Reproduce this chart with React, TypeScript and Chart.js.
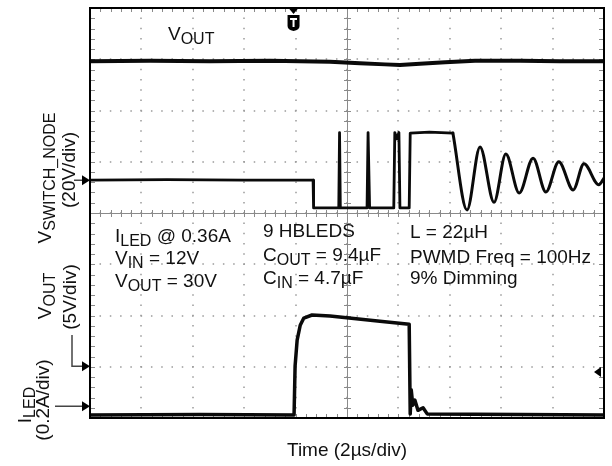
import React, { useEffect, useRef } from "react";
import { Chart, registerables } from "chart.js";

Chart.register(...registerables);

// ---- Data (x in time divisions 0..10, y in screen divisions 0..8) ----
const voutTopX = [0, 1.17, 2.33, 3.5, 4.67, 5.25, 5.74, 6.03, 6.42, 6.91, 7.49, 8.37, 9.14, 10];
const voutTopY = [6.96, 6.97, 6.96, 6.97, 6.95, 6.92, 6.9, 6.89, 6.91, 6.94, 6.97, 6.97, 6.96, 6.96];

const switchX = [0, 1.5, 3.0, 4.34, 4.35, 4.84, 4.855, 4.87, 5.39, 5.41, 5.44, 5.91, 5.93, 5.97, 6.01, 6.03, 6.21, 6.23, 6.6, 7.06];
const switchY = [4.64, 4.65, 4.64, 4.64, 4.1, 4.1, 5.57, 4.1, 4.1, 5.57, 4.1, 4.1, 5.57, 5.45, 5.57, 4.1, 4.1, 5.56, 5.58, 5.56];

const ringX = [7.06, 7.335, 7.588, 7.86, 8.09, 8.35, 8.62, 8.87, 9.12, 9.4, 9.61, 9.9, 10];
const ringY = [5.56, 4.06, 5.29, 4.21, 5.15, 4.39, 5.07, 4.41, 5.0, 4.45, 4.96, 4.55, 4.68];

const iledX = [0, 2.14, 3.97, 3.99, 4.03, 4.09, 4.16, 4.32, 4.67, 5.04, 5.64, 6.21, 6.23, 6.25, 6.28, 6.32, 6.38, 6.48, 6.56, 8.37, 10];
const iledY = [0.06, 0.07, 0.06, 1.01, 1.52, 1.81, 1.95, 2.01, 1.99, 1.95, 1.89, 1.83, 0.08, 0.55, 0.25, 0.35, 0.15, 0.2, 0.08, 0.07, 0.06];

// reference markers (divisions)
const switchRef = 4.64;
const voutRef = 1.01;
const iledRef = 0.23;
const rightRef = 0.9;
const triggerX = 3.96;

type Part = [string, boolean];

const topLabel: Part[] = [["V", false], ["OUT", true]];
const leftCol: Part[][] = [
  [["I", false], ["LED", true], [" @ 0.36A", false]],
  [["V", false], ["IN", true], [" = 12V", false]],
  [["V", false], ["OUT", true], [" = 30V", false]],
];
const midCol: Part[][] = [
  [["9 HBLEDS", false]],
  [["C", false], ["OUT", true], [" = 9.4µF", false]],
  [["C", false], ["IN", true], [" = 4.7µF", false]],
];
const rightCol: Part[][] = [
  [["L = 22µH", false]],
  [["PWMD Freq = 100Hz", false]],
  [["9% Dimming", false]],
];
const switchLabel: Part[] = [["V", false], ["SWITCH_NODE", true]];
const switchScale: Part[] = [["(20V/div)", false]];
const voutLabel: Part[] = [["V", false], ["OUT", true]];
const voutScale: Part[] = [["(5V/div)", false]];
const iledLabel: Part[] = [["I", false], ["LED", true]];
const iledScale: Part[] = [["(0.2A/div)", false]];
const xTitle = "Time (2µs/div)";

const FONT = "'Liberation Sans', Arial, Helvetica, sans-serif";

function drawParts(ctx: CanvasRenderingContext2D, parts: Part[], x: number, y: number, align: "left" | "center", main = 19, sub = 16, shift = 4) {
  const widths = parts.map(([t, s]) => {
    ctx.font = `${s ? sub : main}px ${FONT}`;
    return ctx.measureText(t).width;
  });
  const total = widths.reduce((a, b) => a + b, 0);
  let cx = align === "center" ? x - total / 2 : x;
  ctx.textAlign = "left";
  ctx.textBaseline = "alphabetic";
  parts.forEach(([t, s], i) => {
    ctx.font = `${s ? sub : main}px ${FONT}`;
    ctx.fillText(t, cx, y + (s ? shift : 0));
    cx += widths[i];
  });
}

function drawRotated(ctx: CanvasRenderingContext2D, parts: Part[], bx: number, cy: number) {
  ctx.save();
  ctx.translate(bx, cy);
  ctx.rotate(-Math.PI / 2);
  drawParts(ctx, parts, 0, 0, "center");
  ctx.restore();
}

function arrowRight(ctx: CanvasRenderingContext2D, tipX: number, y: number) {
  ctx.beginPath();
  ctx.moveTo(tipX, y);
  ctx.lineTo(tipX - 8, y - 5);
  ctx.lineTo(tipX - 8, y + 5);
  ctx.closePath();
  ctx.fill();
}

const scopePlugin = {
  id: "scope",
  beforeDraw(chart: any) {
    const ctx = chart.ctx as CanvasRenderingContext2D;
    ctx.save();
    ctx.fillStyle = "#ffffff";
    ctx.fillRect(0, 0, chart.width, chart.height);
    ctx.restore();
  },
  beforeDatasetsDraw(chart: any) {
    const ctx = chart.ctx as CanvasRenderingContext2D;
    const { left, right, top, bottom } = chart.chartArea;
    const xs = chart.scales.x;
    const ys = chart.scales.y;
    ctx.save();
    // dotted grid
    ctx.fillStyle = "#9a9a9a";
    for (let i = 1; i < 10; i++) {
      const px = xs.getPixelForValue(i);
      for (let k = 0; k <= 40; k++) {
        const py = ys.getPixelForValue(k / 5);
        ctx.fillRect(Math.round(px) - 0.75, py - 0.75, 1.5, 1.5);
      }
    }
    for (let j = 1; j < 8; j++) {
      const py = ys.getPixelForValue(j);
      for (let k = 0; k <= 50; k++) {
        const px = xs.getPixelForValue(k / 5);
        ctx.fillRect(px - 0.75, Math.round(py) - 0.75, 1.5, 1.5);
      }
    }
    // center cross with ticks
    const cx = xs.getPixelForValue(5);
    const cy = ys.getPixelForValue(4);
    ctx.strokeStyle = "#8a8a8a";
    ctx.lineWidth = 1;
    ctx.beginPath();
    ctx.moveTo(left, Math.round(cy) + 0.5);
    ctx.lineTo(right, Math.round(cy) + 0.5);
    ctx.moveTo(Math.round(cx) + 0.5, top);
    ctx.lineTo(Math.round(cx) + 0.5, bottom);
    for (let k = 0; k <= 50; k++) {
      const px = Math.round(xs.getPixelForValue(k / 5)) + 0.5;
      ctx.moveTo(px, cy - 3);
      ctx.lineTo(px, cy + 4);
      ctx.moveTo(px, top);
      ctx.lineTo(px, top + 4);
      ctx.moveTo(px, bottom);
      ctx.lineTo(px, bottom - 4);
    }
    for (let k = 0; k <= 40; k++) {
      const py = Math.round(ys.getPixelForValue(k / 5)) + 0.5;
      ctx.moveTo(cx - 3, py);
      ctx.lineTo(cx + 4, py);
      ctx.moveTo(left, py);
      ctx.lineTo(left + 5, py);
      ctx.moveTo(right, py);
      ctx.lineTo(right - 5, py);
    }
    ctx.stroke();
    ctx.restore();
  },
  afterDatasetsDraw(chart: any) {
    const ctx = chart.ctx as CanvasRenderingContext2D;
    const { left, right, top, bottom } = chart.chartArea;
    const xs = chart.scales.x;
    const ys = chart.scales.y;
    ctx.save();
    // border
    ctx.strokeStyle = "#000";
    ctx.lineWidth = 2;
    ctx.strokeRect(left, top, right - left, bottom - top);

    // trigger marker
    const tx = xs.getPixelForValue(triggerX);
    ctx.fillStyle = "#000";
    ctx.beginPath();
    ctx.moveTo(tx - 5, top);
    ctx.lineTo(tx + 5, top);
    ctx.lineTo(tx, top + 6);
    ctx.closePath();
    ctx.fill();
    ctx.beginPath();
    ctx.moveTo(tx - 6, top + 7);
    ctx.lineTo(tx + 6, top + 7);
    ctx.lineTo(tx + 6, top + 18);
    ctx.quadraticCurveTo(tx + 6, top + 22, tx, top + 23);
    ctx.quadraticCurveTo(tx - 6, top + 22, tx - 6, top + 18);
    ctx.closePath();
    ctx.fill();
    ctx.fillStyle = "#fff";
    ctx.fillRect(tx - 3.5, top + 10, 7, 2);
    ctx.fillRect(tx - 1, top + 10, 2, 9);

    // left reference arrows
    ctx.fillStyle = "#000";
    ctx.strokeStyle = "#444";
    ctx.lineWidth = 1.5;
    const sy = ys.getPixelForValue(switchRef);
    const vy = ys.getPixelForValue(voutRef);
    const iy = ys.getPixelForValue(iledRef);
    ctx.beginPath();
    ctx.moveTo(74, sy);
    ctx.lineTo(left - 6, sy);
    ctx.moveTo(72, 335);
    ctx.lineTo(72, vy);
    ctx.lineTo(left - 6, vy);
    ctx.moveTo(55, iy);
    ctx.lineTo(left - 6, iy);
    ctx.stroke();
    arrowRight(ctx, left, sy);
    arrowRight(ctx, left, vy);
    arrowRight(ctx, left, iy);
    // right marker
    const ry = ys.getPixelForValue(rightRef);
    ctx.beginPath();
    ctx.moveTo(right - 10, ry);
    ctx.lineTo(right - 3, ry - 5);
    ctx.lineTo(right - 3, ry + 5);
    ctx.closePath();
    ctx.fill();

    // texts
    ctx.fillStyle = "#111";
    drawParts(ctx, topLabel, 168, 40, "left");
    const lb = [242, 264, 287];
    leftCol.forEach((p, i) => drawParts(ctx, p, 115, lb[i], "left"));
    const mb = [237, 261, 284];
    midCol.forEach((p, i) => drawParts(ctx, p, 263, mb[i], "left"));
    const rb = [238, 263, 284];
    rightCol.forEach((p, i) => drawParts(ctx, p, 410, rb[i], "left"));

    drawRotated(ctx, switchLabel, 51, 178);
    drawRotated(ctx, switchScale, 75, 170);
    drawRotated(ctx, voutLabel, 51, 296);
    drawRotated(ctx, voutScale, 76, 297);
    drawRotated(ctx, iledLabel, 31, 405);
    drawRotated(ctx, iledScale, 49, 400);

    ctx.font = `19px ${FONT}`;
    ctx.textAlign = "center";
    ctx.textBaseline = "alphabetic";
    ctx.fillText(xTitle, (left + right) / 2, 456);
    ctx.restore();
  },
};

const pts = (xs: number[], ys: number[]) => xs.map((x, i) => ({ x, y: ys[i] }));

export default function App() {
  const ref = useRef<HTMLCanvasElement | null>(null);
  useEffect(() => {
    if (!ref.current) return;
    const base = {
      borderColor: "#0a0a0a",
      pointRadius: 0,
      tension: 0,
      fill: false,
      borderJoinStyle: "round" as const,
      borderCapStyle: "round" as const,
    };
    const chart = new Chart(ref.current, {
      type: "line",
      data: {
        datasets: [
          { ...base, data: pts(voutTopX, voutTopY), borderWidth: 4 },
          { ...base, data: pts(switchX, switchY), borderWidth: 2.8 },
          { ...base, data: pts(ringX, ringY), borderWidth: 3, cubicInterpolationMode: "monotone" },
          { ...base, data: pts(iledX, iledY), borderWidth: 3.5 },
        ],
      },
      options: {
        animation: false,
        responsive: false,
        events: [],
        layout: { padding: { left: 90, top: 8, right: 8, bottom: 48 } },
        scales: {
          x: { type: "linear", min: 0, max: 10, display: false },
          y: { type: "linear", min: 0, max: 8, display: false },
        },
        plugins: { legend: { display: false }, tooltip: { enabled: false } },
      },
      plugins: [scopePlugin],
    } as any);
    return () => chart.destroy();
  }, []);
  return (
    <div style={{ position: "absolute", left: 0, top: 0, width: 612, height: 466, background: "#fff" }}>
      <canvas ref={ref} width={612} height={466} style={{ display: "block" }} />
    </div>
  );
}
